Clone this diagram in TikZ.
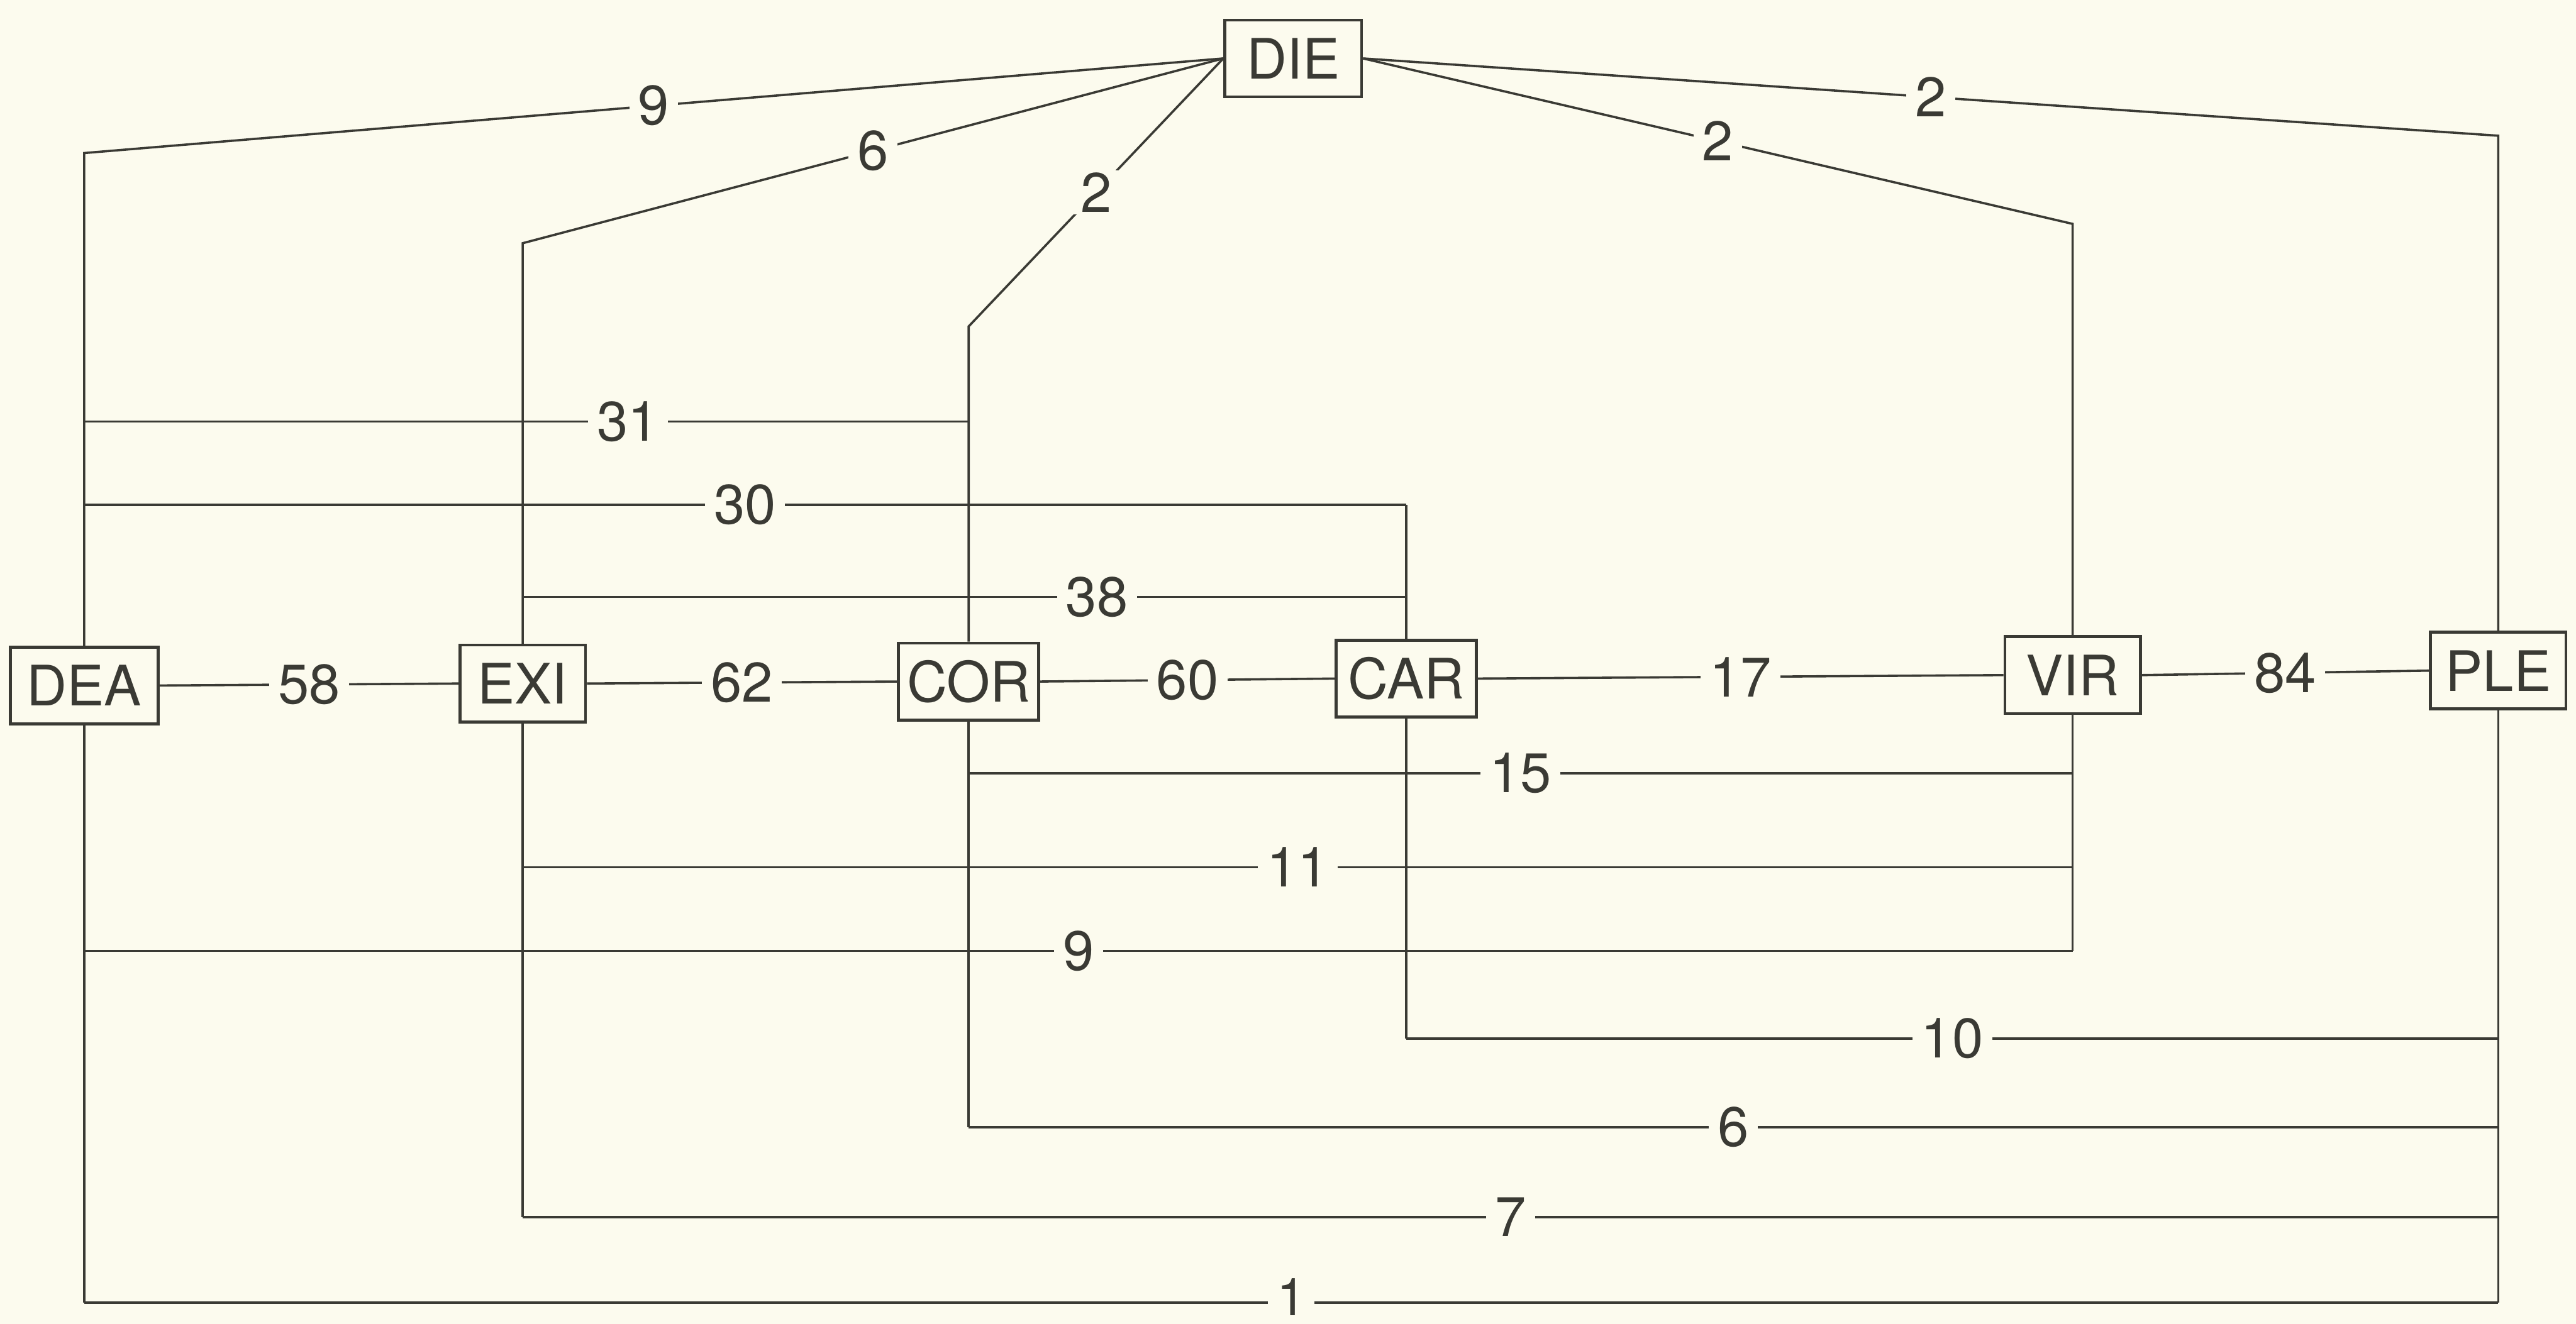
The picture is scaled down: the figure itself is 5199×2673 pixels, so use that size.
\documentclass[tikz,border=0pt]{standalone}
\usepackage{fontspec}
\setmainfont{TeX Gyre Heros}
\definecolor{bg}{HTML}{FCFBEE}
\definecolor{ink}{HTML}{3A3A34}
\tikzset{
  ln/.style={draw=ink, line width=1.3pt},
  box/.style={draw=ink, line width=1.7pt, fill=bg, text=ink, minimum height=1.55cm,
              inner xsep=0.15cm, font=\fontsize{32}{38}\selectfont},
  lbl/.style={fill=bg, text=ink, inner xsep=0.18cm, inner ysep=0.04cm,
              font=\fontsize{32}{38}\selectfont}
}
\begin{document}
\begin{tikzpicture}[x=0.01cm, y=-0.01cm]
\fill[bg] (0,0) rectangle (5199,2673);
\useasboundingbox (0,0) rectangle (5199,2673);

% nodes
\node[box, minimum width=2.76cm] (DIE) at (2610,118) {DIE};
\node[box, minimum width=2.98cm] (DEA) at (170,1384) {DEA};
\node[box, minimum width=2.53cm] (EXI) at (1055,1380) {EXI};
\node[box, minimum width=2.83cm] (COR) at (1955,1376) {COR};
\node[box, minimum width=2.83cm] (CAR) at (2838,1370) {CAR};
\node[box, minimum width=2.73cm] (VIR) at (4183,1363) {VIR};
\node[box, minimum width=2.73cm] (PLE) at (5042,1354) {PLE};

% y levels
\coordinate (y31) at (0,851);
\coordinate (y30) at (0,1019);
\coordinate (y38) at (0,1205);
\coordinate (y15) at (0,1561);
\coordinate (y11) at (0,1751);
\coordinate (y9)  at (0,1920);
\coordinate (y10) at (0,2097);
\coordinate (y6)  at (0,2276);
\coordinate (y7)  at (0,2457);
\coordinate (y1)  at (0,2630);

% fan corners
\coordinate (cDEA) at (DEA |- 0,309);
\coordinate (cEXI) at (EXI |- 0,491);
\coordinate (cCOR) at (COR |- 0,659);
\coordinate (cVIR) at (VIR |- 0,452);
\coordinate (cPLE) at (PLE |- 0,274);

% bus ends
\coordinate (a31) at (DEA |- y31); \coordinate (b31) at (COR |- y31);
\coordinate (a30) at (DEA |- y30); \coordinate (b30) at (CAR |- y30);
\coordinate (a38) at (EXI |- y38); \coordinate (b38) at (CAR |- y38);
\coordinate (a15) at (COR |- y15); \coordinate (b15) at (VIR |- y15);
\coordinate (a11) at (EXI |- y11); \coordinate (b11) at (VIR |- y11);
\coordinate (a9)  at (DEA |- y9);  \coordinate (b9)  at (VIR |- y9);
\coordinate (a10) at (CAR |- y10); \coordinate (b10) at (PLE |- y10);
\coordinate (a6)  at (COR |- y6);  \coordinate (b6)  at (PLE |- y6);
\coordinate (a7)  at (EXI |- y7);  \coordinate (b7)  at (PLE |- y7);
\coordinate (a1)  at (DEA |- y1);  \coordinate (b1)  at (PLE |- y1);

% fan lines to DIE and column tops
\draw[ln] (DIE.west) -- (cDEA) -- (DEA.north);
\draw[ln] (DIE.west) -- (cEXI) -- (EXI.north);
\draw[ln] (DIE.west) -- (cCOR) -- (COR.north);
\draw[ln] (DIE.east) -- (cVIR) -- (VIR.north);
\draw[ln] (DIE.east) -- (cPLE) -- (PLE.north);
\draw[ln] (b30) -- (CAR.north);

% column bottoms
\draw[ln] (DEA.south) -- (a1);
\draw[ln] (EXI.south) -- (a7);
\draw[ln] (COR.south) -- (a6);
\draw[ln] (CAR.south) -- (a10);
\draw[ln] (VIR.south) -- (b9);
\draw[ln] (PLE.south) -- (b1);

% buses
\draw[ln] (a31) -- (b31);
\draw[ln] (a30) -- (b30);
\draw[ln] (a38) -- (b38);
\draw[ln] (a15) -- (b15);
\draw[ln] (a11) -- (b11);
\draw[ln] (a9)  -- (b9);
\draw[ln] (a10) -- (b10);
\draw[ln] (a6)  -- (b6);
\draw[ln] (a7)  -- (b7);
\draw[ln] (a1)  -- (b1);

% main row
\draw[ln] (DEA.east) -- (EXI.west);
\draw[ln] (EXI.east) -- (COR.west);
\draw[ln] (COR.east) -- (CAR.west);
\draw[ln] (CAR.east) -- (VIR.west);
\draw[ln] (VIR.east) -- (PLE.west);

% labels (drawn last so they break the lines)
\path (DIE.west) -- node[lbl]{9} (cDEA);
\path (DIE.west) -- node[lbl]{6} (cEXI);
\path (DIE.west) -- node[lbl]{2} (cCOR);
\path (DIE.east) -- node[lbl]{2} (cVIR);
\path (DIE.east) -- node[lbl]{2} (cPLE);
\path (a31) -- node[lbl, pos=0.615]{31} (b31);
\path (a30) -- node[lbl]{30} (b30);
\path (a38) -- node[lbl, pos=0.65]{38} (b38);
\path (a15) -- node[lbl]{15} (b15);
\path (a11) -- node[lbl]{11} (b11);
\path (a9)  -- node[lbl]{9} (b9);
\path (a10) -- node[lbl]{10} (b10);
\path (a6)  -- node[lbl]{6} (b6);
\path (a7)  -- node[lbl]{7} (b7);
\path (a1)  -- node[lbl, inner ysep=0pt, yshift=0.12cm, font=\fontsize{30}{34}\selectfont]{1} (b1);
\path (DEA.east) -- node[lbl]{58} (EXI.west);
\path (EXI.east) -- node[lbl]{62} (COR.west);
\path (COR.east) -- node[lbl]{60} (CAR.west);
\path (CAR.east) -- node[lbl]{17} (VIR.west);
\path (VIR.east) -- node[lbl]{84} (PLE.west);
\end{tikzpicture}
\end{document}
